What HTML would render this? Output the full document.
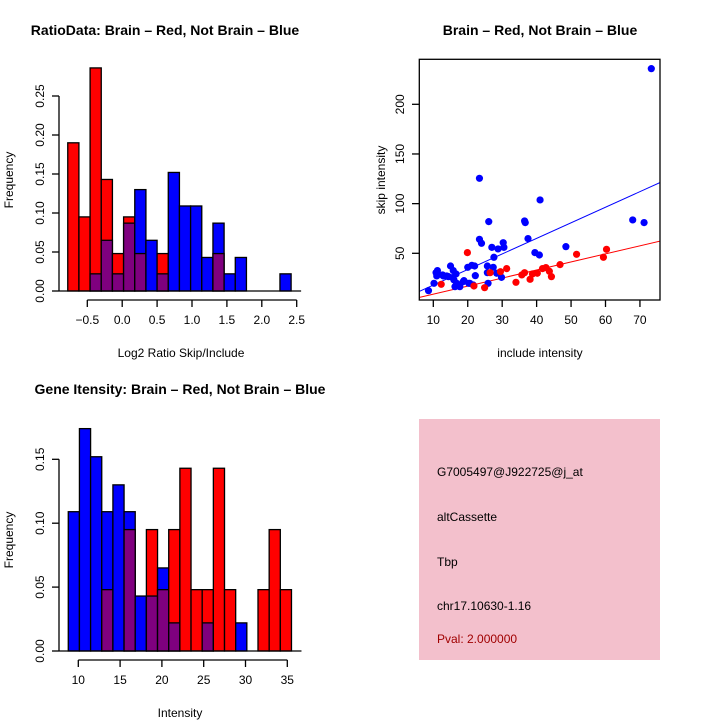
<!DOCTYPE html>
<html><head><meta charset="utf-8"><style>
body{margin:0;background:#fff}
svg{display:block;font-family:"Liberation Sans",sans-serif}
</style></head><body>
<svg id="s" width="720" height="720" viewBox="0 0 720 720">
<rect width="720" height="720" fill="#fff"/>
<g id="g"></g>
<text x="165" y="35" text-anchor="middle" font-size="14" font-weight="bold">RatioData: Brain – Red, Not Brain – Blue</text>
<text x="540" y="35" text-anchor="middle" font-size="14" font-weight="bold">Brain – Red, Not Brain – Blue</text>
<text x="180" y="394" text-anchor="middle" font-size="14" font-weight="bold">Gene Itensity: Brain – Red, Not Brain – Blue</text>
<text x="181" y="357" text-anchor="middle" font-size="12">Log2 Ratio Skip/Include</text>
<text x="13" y="180" text-anchor="middle" font-size="12" transform="rotate(-90 13 180)">Frequency</text>
<text x="540" y="357" text-anchor="middle" font-size="12">include intensity</text>
<text x="385" y="180" text-anchor="middle" font-size="12" transform="rotate(-90 385 180)">skip intensity</text>
<text x="180" y="717" text-anchor="middle" font-size="12">Intensity</text>
<text x="13" y="540" text-anchor="middle" font-size="12" transform="rotate(-90 13 540)">Frequency</text>
<g>
<rect x="419" y="419" width="241" height="241" fill="#f3c0cc"/>
<text x="437" y="476" font-size="12">G7005497@J922725@j_at</text>
<text x="437" y="521" font-size="12">altCassette</text>
<text x="437" y="566" font-size="12">Tbp</text>
<text x="437" y="610" font-size="12">chr17.10630-1.16</text>
<text x="437" y="643" font-size="12" fill="#a00000">Pval: 2.000000</text>
</g>
</svg>
<script>
// Ratio histogram
const ratioRed  = [0.190,0.095,0.286,0.143,0.048,0.095,0.048,0,0.048,0,0,0,0,0.048,0,0,0,0,0,0];
const ratioBlue = [0,0,0.022,0.065,0.022,0.087,0.130,0.065,0.022,0.152,0.109,0.109,0.043,0.087,0.022,0.043,0,0,0,0.022];
const ratioXTicks = [-0.5,0.0,0.5,1.0,1.5,2.0,2.5];
const ratioXLabels = ["−0.5","0.0","0.5","1.0","1.5","2.0","2.5"];
const ratioYTicks = [0,0.05,0.10,0.15,0.20,0.25];
const ratioYLabels = ["0.00","0.05","0.10","0.15","0.20","0.25"];
// Intensity histogram
const intRed  = [0,0,0,0.048,0,0.095,0,0.095,0.048,0.095,0.143,0.048,0.048,0.143,0.048,0,0,0.048,0.095,0.048];
const intBlue = [0.109,0.174,0.152,0.109,0.130,0.109,0.043,0.043,0.065,0.022,0,0,0.022,0,0,0.022,0,0,0,0];
const intXTicks = [10,15,20,25,30,35];
const intYTicks = [0,0.05,0.10,0.15];
const intYLabels = ["0.00","0.05","0.10","0.15"];
// Scatter
const blueX=[8.6,10.2,10.8,11.0,11.2,12.7,12.9,13.9,14.4,15.0,15.6,15.8,16.0,16.3,16.6,16.8,17.7,18.7,18.9,20.0,20.3,20.6,21.2,21.6,22.0,22.2,23.4,23.4,24.0,25.7,25.7,25.9,26.1,27.0,27.4,27.6,28.4,28.8,29.8,30.3,30.5,36.5,36.7,37.5,39.5,40.8,41.0,48.5,67.9,71.2,73.3];
const blueY=[12.4,19.8,30.5,27.2,32.6,28.2,27.2,27.2,26.5,37.2,25.5,32.6,23.2,16.4,29.2,19.8,16.4,21.5,22.5,35.9,19.8,19.8,37.9,18.1,37.2,27.5,125.5,64.1,60.1,37.2,30.5,19.8,81.9,56.0,35.9,46.0,29.9,54.4,25.8,60.7,56.0,82.6,80.9,64.8,50.7,48.3,103.7,56.7,83.6,80.9,235.9];
const redX=[12.3,19.9,21.8,24.9,26.5,29.5,31.3,34.0,35.7,36.5,38.1,38.8,40.2,41.7,42.7,43.7,44.3,46.8,51.6,59.4,60.3];
const redY=[18.8,50.7,17.1,15.4,30.5,31.5,34.6,20.8,28.2,30.5,23.8,29.2,29.9,34.6,35.6,31.9,26.5,38.6,49.0,46.0,54.0];
const blueLine=[[6,11.7],[76,121.5]];
const redLine=[[6,5.6],[76,62.4]];
const scXTicks=[10,20,30,40,50,60,70];
const scYTicks=[50,100,150,200];

const NS="http://www.w3.org/2000/svg";
const G=document.getElementById('g');
function mk(t,a,p){const e=document.createElementNS(NS,t);for(const k in a)e.setAttribute(k,a[k]);(p||G).appendChild(e);return e;}

function hist(name,red,blue,x0,bw,sx,sy,y0px,xt,xl,yt,yl,axisX0,axisX1,yAxisTop,xAxisY,yAxisX){
  const grp=mk('g',{});
  
  
  for(let i=0;i<red.length;i++){
    const r=red[i],b=blue[i],hi=Math.max(r,b),lo=Math.min(r,b);
    const xl_=sx(x0+i*bw),xr=sx(x0+(i+1)*bw);
    if(hi>0){
      const e=mk('rect',{x:xl_,y:sy(hi),width:xr-xl_,height:sy(0)-sy(hi),fill:r>=b?'#ff0000':'#0000ff',stroke:'#000','stroke-width':1.3},grp);
      
      
    }
    if(lo>0){
      const e=mk('rect',{x:xl_,y:sy(lo),width:xr-xl_,height:sy(0)-sy(lo),fill:'#7f007f',stroke:'#000','stroke-width':1.3},grp);
      
      
    }
  }
  mk('line',{x1:yAxisX,x2:xr_end(),y1:sy(0),y2:sy(0),stroke:'#000','stroke-width':1.3},grp);
  function xr_end(){return sx(x0+red.length*bw)+10;}
  // x axis
  mk('line',{x1:sx(xt[0]),x2:sx(xt[xt.length-1]),y1:xAxisY,y2:xAxisY,stroke:'#000','stroke-width':1.3},grp);
  xt.forEach((v,i)=>{
    mk('line',{x1:sx(v),x2:sx(v),y1:xAxisY,y2:xAxisY+7,stroke:'#000','stroke-width':1.3},grp);
    const t=mk('text',{x:sx(v),y:xAxisY+24,'text-anchor':'middle','font-size':12},grp);t.textContent=xl[i];
  });
  // y axis
  mk('line',{x1:yAxisX,x2:yAxisX,y1:sy(yt[0]),y2:sy(yt[yt.length-1]),stroke:'#000','stroke-width':1.3},grp);
  yt.forEach((v,i)=>{
    mk('line',{x1:yAxisX,x2:yAxisX-7,y1:sy(v),y2:sy(v),stroke:'#000','stroke-width':1.3},grp);
    const tx=yAxisX-15;
    const t=mk('text',{x:tx,y:sy(v),'text-anchor':'middle','font-size':12,transform:`rotate(-90 ${tx} ${sy(v)})`},grp);t.textContent=yl[i];
  });
}
hist('ratio-histogram',ratioRed,ratioBlue,-0.78,0.16,
  v=>87.3+(v+0.5)*69.8, v=>291-v/0.05*39, 291,
  ratioXTicks,ratioXLabels,ratioYTicks,ratioYLabels,0,0,0,300,59);
hist('intensity-histogram',intRed,intBlue,8.8,1.335,
  v=>78.3+(v-10)*8.36, v=>651-v/0.05*63.9, 651,
  intXTicks,intXTicks.map(String),intYTicks,intYLabels,0,0,0,660,59);

// scatter
const sg=mk('g',{});


const SX=v=>433.3+(v-10)*3.444, SY=v=>253.3-(v-50)*0.9933;
const clip=mk('clipPath',{id:'cp'},sg);mk('rect',{x:419,y:59,width:241,height:241},clip);
const lg=mk('g',{'clip-path':'url(#cp)'},sg);
[[blueLine,'#0000ff','blue-fit-line'],[redLine,'#ff0000','red-fit-line']].forEach(([l,c,n])=>{
  const e=mk('line',{x1:SX(l[0][0]),y1:SY(l[0][1]),x2:SX(l[1][0]),y2:SY(l[1][1]),stroke:c,'stroke-width':1},lg);
  
  
});
blueX.forEach((x,i)=>{const e=mk('circle',{cx:SX(x),cy:SY(blueY[i]),r:3.6,fill:'#0000ff'},sg);
  
  });
redX.forEach((x,i)=>{const e=mk('circle',{cx:SX(x),cy:SY(redY[i]),r:3.6,fill:'#ff0000'},sg);
  
  });
mk('rect',{x:419.3,y:59.3,width:240.7,height:240.7,fill:'none',stroke:'#000','stroke-width':1.3},sg);
scXTicks.forEach(v=>{mk('line',{x1:SX(v),x2:SX(v),y1:300,y2:307,stroke:'#000','stroke-width':1.3},sg);
  const t=mk('text',{x:SX(v),y:324,'text-anchor':'middle','font-size':12},sg);t.textContent=v;});
scYTicks.forEach(v=>{mk('line',{x1:419.3,x2:412,y1:SY(v),y2:SY(v),stroke:'#000','stroke-width':1.3},sg);
  const tx=404;const t=mk('text',{x:tx,y:SY(v),'text-anchor':'middle','font-size':12,transform:`rotate(-90 ${tx} ${SY(v)})`},sg);t.textContent=v;});
</script>
</body></html>
